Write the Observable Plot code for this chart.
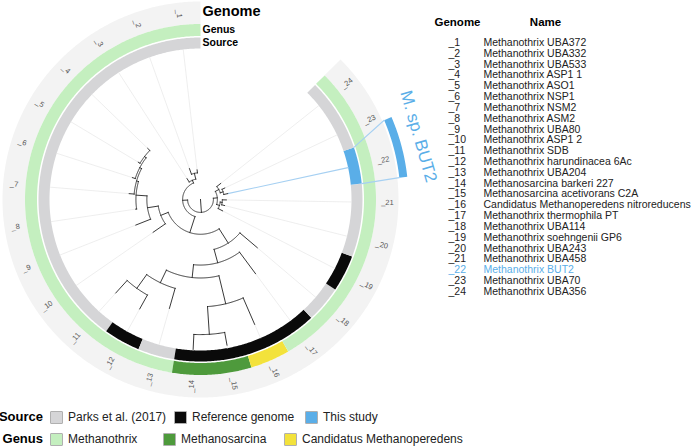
<!DOCTYPE html>
<html><head><meta charset="utf-8">
<script src="https://cdn.jsdelivr.net/npm/d3@7"></script>
<script src="https://cdn.jsdelivr.net/npm/@observablehq/plot@0.6"></script>
<style>
body{margin:0;background:#fff;font-family:"Liberation Sans",Arial,Helvetica,sans-serif;}
#wrap{width:696px;}
.leg{position:relative;width:696px;height:22px;font-size:12px;color:#222;}
.leg .lab{position:absolute;right:653px;top:3px;font-weight:bold;font-size:13px;color:#000;}
.leg .sw{position:absolute;top:5px;width:13px;height:13px;border:1px solid #b0b0b0;box-sizing:border-box;border-radius:1px;}
.leg .tx{position:absolute;top:4px;white-space:nowrap;}
</style></head><body><div id="wrap"></div>
<script>
// ---------------- data ----------------
const genomeIds = ["_1","_2","_3","_4","_5","_6","_7","_8","_9","_10","_11","_12","_13","_14","_15","_16","_17","_18","_19","_20","_21","_22","_23","_24"];
const genomeNames = ["Methanothrix UBA372","Methanothrix UBA332","Methanothrix UBA533","Methanothrix ASP1 1","Methanothrix ASO1","Methanothrix NSP1","Methanothrix NSM2","Methanothrix ASM2","Methanothrix UBA80","Methanothrix ASP1 2","Methanothrix SDB","Methanothrix harundinacea 6Ac","Methanothrix UBA204","Methanosarcina barkeri 227","Methanosarcina acetivorans C2A","Candidatus Methanoperedens nitroreducens","Methanothrix thermophila PT","Methanothrix UBA114","Methanothrix soehngenii GP6","Methanothrix UBA243","Methanothrix UBA458","Methanothrix BUT2","Methanothrix UBA70","Methanothrix UBA356"];
const genusOf = ["Methanothrix","Methanothrix","Methanothrix","Methanothrix","Methanothrix","Methanothrix","Methanothrix","Methanothrix","Methanothrix","Methanothrix","Methanothrix","Methanothrix","Methanothrix","Methanosarcina","Methanosarcina","Candidatus Methanoperedens","Methanothrix","Methanothrix","Methanothrix","Methanothrix","Methanothrix","Methanothrix","Methanothrix","Methanothrix"];
const P17 = "Parks et al. (2017)", REF = "Reference genome", THIS = "This study";
const sourceOf = [P17,P17,P17,P17,P17,P17,P17,P17,P17,P17,P17,REF,P17,REF,REF,REF,REF,P17,REF,P17,P17,THIS,P17,P17];
const sourceLevels = [P17, REF, THIS];
const sourceColors = ["#d5d5d7","#0a0a0a","#5aaee8"];
const genusLevels = ["Methanothrix","Methanosarcina","Candidatus Methanoperedens"];
const genusColors = ["#c4efbf","#4e9a3c","#f3e23b"];
const highlightGenome = "_22";
const highlightLabel = "M. sp. BUT2";
// tree (Newick), branch lengths
const cladeA = "((1:0.03,2:0.06):0.06,3:0.04)";
const cladeL = "((((((4:0.03,5:0.02):0.02,6:0.03):0.02,7:0.05):0.02,8:0.01):0.11,9:0.16):0.11,10:0.15)";
const cladeR = "(((((11:0.17,12:0.16):0.17,13:0.21):0.14,((14:0.15,15:0.13):0.28,16:0.29):0.29):0.13,17:0.27):0.14,18:0.23)";
const cladeE = "((19:0.05,(20:0.03,21:0.04):0.02):0.03,((22:0.04,23:0.03):0.03,24:0.05):0.04)";
const newick = "((" + cladeA + ":0.03,(" + cladeL + ":0.08," + cladeR + ":0.17):0.17):0.05," + cladeE + ":0.04):0.13;";

// ---------------- geometry ----------------
const W = 696, H = 406;
const openAngle = 45, n = genomeIds.length, step = (360 - openAngle) / n;
const R_TREE = 150, SRC = [151, 162], GEN = [163.5, 175.5], GENOME = [175.5, 198], HL = [200, 208];
const labelR = 187, hlTextR = 227;
const hlSpan = [-0.45, 0.85], hlTextShift = 0.3;   // strip extent around the highlighted tip, in tip steps
const theta = y => (y - 0.5) * step;            // degrees, counter-clockwise from top
const rad = d => d * Math.PI / 180;
const px = (r, t) => -r * Math.sin(rad(t));
const py = (r, t) => -r * Math.cos(rad(t));

function parseNewick(s) {
  let i = 0;
  function node() {
    const nd = {children: []};
    if (s[i] === "(") {
      i++; nd.children.push(node());
      while (s[i] === ",") { i++; nd.children.push(node()); }
      i++;
    }
    let name = ""; while (i < s.length && !":,();".includes(s[i])) name += s[i++];
    nd.name = name;
    if (s[i] === ":") { i++; let num = ""; while (i < s.length && !",();".includes(s[i])) num += s[i++]; nd.len = +num; } else nd.len = 0;
    return nd;
  }
  return node();
}
const root = parseNewick(newick);
const nodes = [];
(function lay(nd, d, parent) {
  nd.depth = d + nd.len; nd.parent = parent; nodes.push(nd);
  if (!nd.children.length) nd.y = +nd.name;
  else { nd.children.forEach(c => lay(c, nd.depth, nd)); nd.y = d3.mean(nd.children, c => c.y); }
})(root, 0, null);
const leaves = nodes.filter(d => !d.children.length);
const rScale = d3.scaleLinear().domain([0, d3.max(leaves, d => d.depth)]).range([0, R_TREE]);

function arcPts(r, t0, t1, id, extra = {}) {
  const k = Math.max(2, Math.ceil(Math.abs(t1 - t0) / 0.5) + 1), out = [];
  for (let j = 0; j < k; j++) { const t = t0 + (t1 - t0) * j / (k - 1); out.push({x: px(r, t), y: py(r, t), id, ...extra}); }
  return out;
}
function radialPts(r0, r1, t, id, extra = {}) {
  return [{x: px(r0, t), y: py(r0, t), id, ...extra}, {x: px(r1, t), y: py(r1, t), id, ...extra}];
}

// tree segments
let seg = [], sid = 0;
nodes.forEach(nd => {
  const r0 = nd.parent ? rScale(nd.parent.depth) : 0;
  seg.push(...radialPts(r0, rScale(nd.depth), theta(nd.y), sid++));
  if (nd.children.length) {
    const ys = nd.children.map(c => c.y);
    seg.push(...arcPts(rScale(nd.depth), theta(d3.min(ys)), theta(d3.max(ys)), sid++));
  }
});
// guide lines from tips to the rings
const hlIndex = genomeIds.indexOf(highlightGenome) + 1;
let guides = [], gid = 0;
leaves.forEach(l => { if (l.y !== hlIndex) guides.push(...radialPts(rScale(l.depth), SRC[0], theta(l.y), gid++)); });
const hlLeaf = leaves.find(l => l.y === hlIndex);
const tA = theta(hlIndex + hlSpan[0]), tB = theta(hlIndex + hlSpan[1]);
let hlLines = [
  ...radialPts(rScale(hlLeaf.depth), SRC[0], theta(hlIndex), 0),
  {x: px(SRC[1], theta(hlIndex - 0.5)), y: py(SRC[1], theta(hlIndex - 0.5)), id: 1},
  {x: px(HL[0], tA), y: py(HL[0], tA), id: 1},
  {x: px(SRC[1], theta(hlIndex + 0.5)), y: py(SRC[1], theta(hlIndex + 0.5)), id: 2},
  {x: px(HL[0], tB), y: py(HL[0], tB), id: 2}
];

// ring runs
function runs(values, colorOf, rMid, tag) {
  const out = []; let start = 0;
  for (let i = 1; i <= values.length; i++) {
    if (i === values.length || values[i] !== values[start]) {
      out.push(...arcPts(rMid, theta(start + 0.5), theta(i + 0.5), tag + start, {c: colorOf(values[start])}));
      start = i;
    }
  }
  return out;
}
const gColor = v => genusColors[genusLevels.indexOf(v)];
const sColor = v => sourceColors[sourceLevels.indexOf(v)];
const genusRing = runs(genusOf, gColor, (GEN[0] + GEN[1]) / 2, "g");
const sourceRing = runs(sourceOf, sColor, (SRC[0] + SRC[1]) / 2, "s");
const genomeRing = arcPts((GENOME[0] + GENOME[1]) / 2, theta(0.5), theta(n + 0.5), "gen");
const hlRing = arcPts((HL[0] + HL[1]) / 2, tA, tB, "hl");

// genome labels (radial)
const tipLabels = genomeIds.map((id, i) => {
  const t = theta(i + 1), x = px(labelR, t), y = py(labelR, t);
  let rot = Math.atan2(y, x) * 180 / Math.PI;
  if (t < 180) rot += 180;
  return {x, y, id, rot};
});
const tH = theta(hlIndex + hlTextShift);
const hlText = [{x: px(hlTextR, tH), y: py(hlTextR, tH), text: highlightLabel, rot: Math.atan2(py(1, tH), px(1, tH)) * 180 / Math.PI + 90}];
const ringTitles = [
  {text: "Genome", y: -(GENOME[0] + GENOME[1]) / 2 - 1, size: 14.5},
  {text: "Genus", y: -(GEN[0] + GEN[1]) / 2, size: 10.5},
  {text: "Source", y: -(SRC[0] + SRC[1]) / 2, size: 10.5}
];
// side table
const tableIdX = 248, tableNameX = 283, tableTop = -157, rowH = 10.83;
const table = genomeIds.map((id, i) => ({id, name: genomeNames[i], y: tableTop + i * rowH, hl: id === highlightGenome}));

const chart = Plot.plot({
  width: W, height: H, margin: 0,
  x: {domain: [-200, W - 200], range: [0, W], axis: null},
  y: {domain: [-199, H - 199], range: [0, H], axis: null},
  style: {fontFamily: "'Liberation Sans', Arial, Helvetica, sans-serif", background: "#fff"},
  marks: [
    Plot.line(genomeRing, {x: "x", y: "y", z: "id", stroke: "#f3f3f3", strokeWidth: GENOME[1] - GENOME[0], strokeLinecap: "butt"}),
    Plot.line(genusRing, {x: "x", y: "y", z: "id", stroke: "c", strokeWidth: GEN[1] - GEN[0], strokeLinecap: "butt"}),
    Plot.line(sourceRing, {x: "x", y: "y", z: "id", stroke: "c", strokeWidth: SRC[1] - SRC[0], strokeLinecap: "butt"}),
    Plot.line(hlRing, {x: "x", y: "y", z: "id", stroke: sourceColors[2], strokeWidth: HL[1] - HL[0], strokeLinecap: "butt"}),
    Plot.line(guides, {x: "x", y: "y", z: "id", stroke: "#e6e6e6", strokeWidth: 0.7}),
    Plot.line(hlLines, {x: "x", y: "y", z: "id", stroke: "#a6d0f2", strokeWidth: 1.1}),
    Plot.line(seg, {x: "x", y: "y", z: "id", stroke: "#222", strokeWidth: 0.9, strokeLinecap: "square"}),
    Plot.text(tipLabels, {x: "x", y: "y", text: "id", rotate: "rot", fontSize: 7.5, fill: "#555"}),
    Plot.text(hlText, {x: "x", y: "y", text: "text", rotate: "rot", fontSize: 17, fill: sourceColors[2]}),
    Plot.text(ringTitles, {x: 2, y: "y", text: "text", fontSize: d => d.size, fontWeight: "bold", textAnchor: "start", fill: "#000"}),
    Plot.text(["Genome"], {x: tableIdX + 9, y: tableTop - 20, text: d => d, fontWeight: "bold", fontSize: 11.5, fill: "#000"}),
    Plot.text(["Name"], {x: tableNameX + 62, y: tableTop - 20, text: d => d, fontWeight: "bold", fontSize: 11.5, fill: "#000"}),
    Plot.text(table, {x: tableIdX, y: "y", text: "id", textAnchor: "start", fontSize: 10.5, fill: d => d.hl ? sourceColors[2] : "#222", fontWeight: d => d.hl ? "bold" : "normal"}),
    Plot.text(table, {x: tableNameX, y: "y", text: "name", textAnchor: "start", fontSize: 10.5, fill: d => d.hl ? sourceColors[2] : "#222", fontWeight: d => d.hl ? "bold" : "normal"})
  ]
});
const wrap = document.getElementById("wrap");
wrap.appendChild(chart);

// legend
function legendRow(title, levels, colors, xs) {
  const row = document.createElement("div"); row.className = "leg";
  const lab = document.createElement("span"); lab.className = "lab"; lab.textContent = title; row.appendChild(lab);
  levels.forEach((lv, i) => {
    const sw = document.createElement("span"); sw.className = "sw"; sw.style.left = xs[i] + "px"; sw.style.background = colors[i]; row.appendChild(sw);
    const tx = document.createElement("span"); tx.className = "tx"; tx.style.left = (xs[i] + 18) + "px"; tx.textContent = lv; row.appendChild(tx);
  });
  wrap.appendChild(row);
}
legendRow("Source", sourceLevels, sourceColors, [50, 174, 305]);
legendRow("Genus", genusLevels, genusColors, [50, 163, 284]);
</script></body></html>
